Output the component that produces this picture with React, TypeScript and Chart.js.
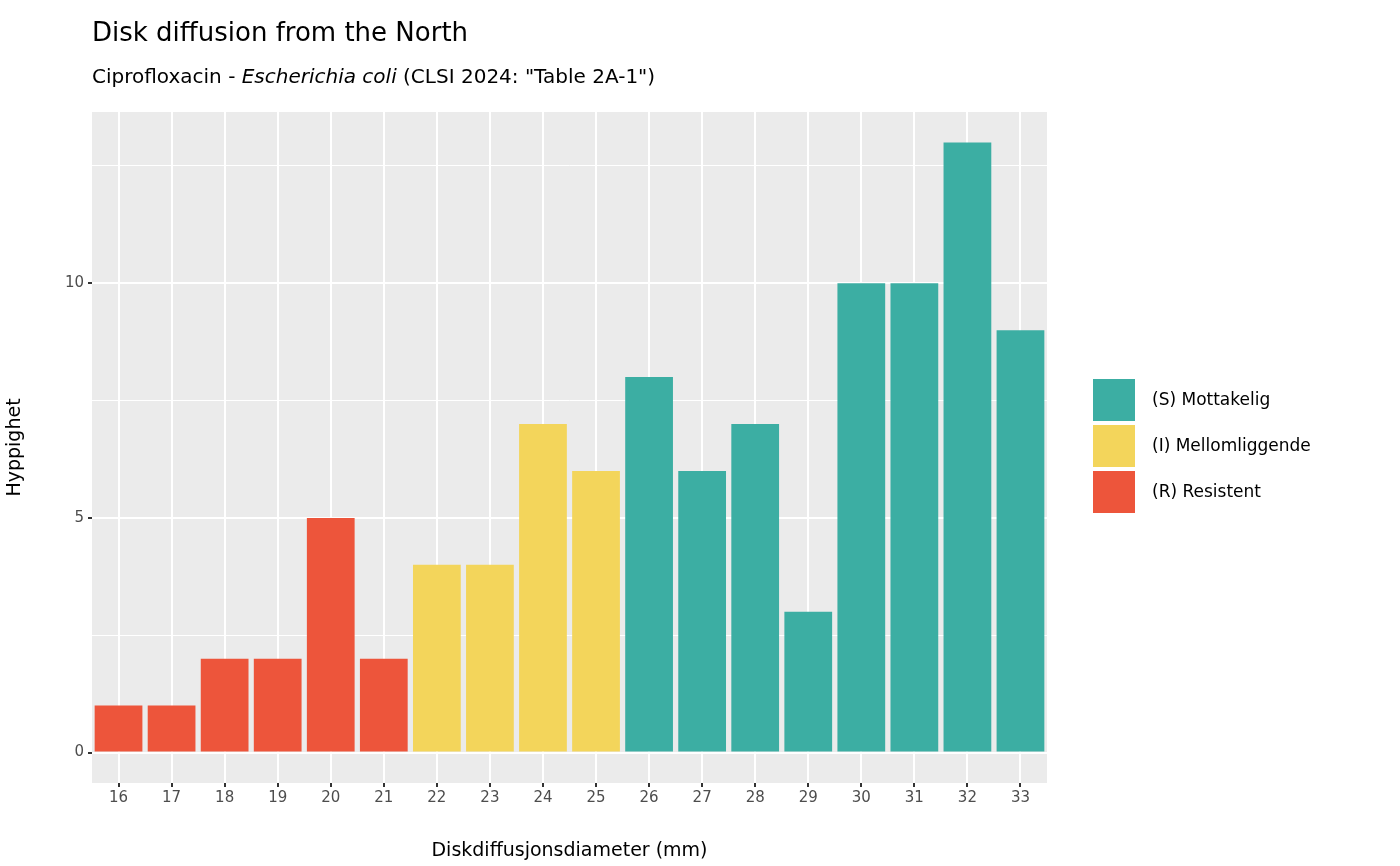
import React, { useEffect, useRef } from "react";
import { Chart, registerables } from "chart.js";
Chart.register(...registerables);

const categories = ["16","17","18","19","20","21","22","23","24","25","26","27","28","29","30","31","32","33"];
const counts = [1,1,2,2,5,2,4,4,7,6,8,6,7,3,10,10,13,9];
const classes = ["R","R","R","R","R","R","I","I","I","I","S","S","S","S","S","S","S","S"];
const legendLabels = ["(S) Mottakelig", "(I) Mellomliggende", "(R) Resistent"];
const legendKeys = ["S", "I", "R"];
const colors: Record<string, string> = { S: "#3CAEA3", I: "#F3D55B", R: "#ED553B" };
const yTicks = [0, 2.5, 5, 7.5, 10, 12.5];

const FONT = "'DejaVu Sans', sans-serif";

export default function App() {
  const ref = useRef<HTMLCanvasElement>(null);
  useEffect(() => {
    const decor = {
      id: "decor",
      beforeDraw(c: any) {
        const { ctx, chartArea: a } = c;
        ctx.save();
        ctx.fillStyle = "#EBEBEB";
        ctx.fillRect(a.left, a.top, a.right - a.left, a.bottom - a.top);
        ctx.restore();
      },
      afterDraw(c: any) {
        const ctx = c.ctx;
        ctx.save();
        ctx.fillStyle = "#000";
        ctx.textBaseline = "alphabetic";
        ctx.font = `26px ${FONT}`;
        ctx.fillText("Disk diffusion from the North", 92, 41);
        let x = 92;
        const y = 83;
        const parts: [string, string][] = [["Ciprofloxacin - ", "normal"], ["Escherichia coli", "italic"], [" (CLSI 2024: \"Table 2A-1\")", "normal"]];
        for (const [t, s] of parts) {
          ctx.font = `${s} 20px ${FONT}`;
          ctx.fillText(t, x, y);
          x += ctx.measureText(t).width;
        }
        legendKeys.forEach((k, i) => {
          const ty = 379 + i * 46;
          ctx.fillStyle = colors[k];
          ctx.fillRect(1093, ty, 42, 42);
          ctx.fillStyle = "#000";
          ctx.font = `17px ${FONT}`;
          ctx.textBaseline = "middle";
          ctx.fillText(legendLabels[i], 1152, ty + 22);
        });
        ctx.restore();
      },
    };
    const datasets = legendKeys.map((k) => ({
      label: k,
      data: counts.map((v, i) => (classes[i] === k ? v : null)),
      backgroundColor: colors[k],
      borderWidth: 0,
      barPercentage: 1,
      categoryPercentage: 0.9,
    }));
    const chart = new Chart(ref.current!, {
      type: "bar",
      data: { labels: categories, datasets },
      plugins: [decor],
      options: {
        animation: false,
        responsive: false,
        layout: { padding: { left: 0, top: 112, right: 1400 - 1047, bottom: 0 } },
        plugins: { legend: { display: false }, tooltip: { enabled: false } },
        scales: {
          x: {
            stacked: true,
            afterFit: (s: any) => { s.height = 83; },
            grid: { offset: false, color: "#FFFFFF", lineWidth: 2, tickColor: "#333", tickLength: 4, drawTicks: true },
            border: { display: false },
            ticks: { color: "#4D4D4D", font: { family: FONT, size: 15 }, padding: 2 },
            title: { display: true, text: "Diskdiffusjonsdiameter (mm)", color: "#000", font: { family: FONT, size: 19 }, padding: { top: 0 } },
          },
          y: {
            stacked: true,
            min: -0.65,
            max: 13.65,
            afterFit: (s: any) => { s.width = 92; },
            afterBuildTicks: (s: any) => { s.ticks = yTicks.map((v) => ({ value: v })); },
            grid: {
              color: "#FFFFFF",
              lineWidth: (c: any) => (c.tick && c.tick.value % 5 === 0 ? 2 : 1),
              tickColor: (c: any) => (c.tick && c.tick.value % 5 === 0 ? "#333" : "rgba(0,0,0,0)"),
              tickLength: 4,
            },
            border: { display: false },
            ticks: {
              color: "#4D4D4D",
              font: { family: FONT, size: 15 },
              padding: 4,
              autoSkip: false,
              callback: (v: any) => (v % 5 === 0 ? String(v) : ""),
            },
            title: { display: true, text: "Hyppighet", color: "#000", font: { family: FONT, size: 19 }, padding: { bottom: 4 } },
          },
        },
      },
    });
    return () => chart.destroy();
  }, []);
  return (
    <div style={{ position: "fixed", left: 0, top: 0, width: 1400, height: 866, background: "#fff" }}>
      <canvas ref={ref} width={1400} height={866} style={{ width: 1400, height: 866 }} />
    </div>
  );
}
